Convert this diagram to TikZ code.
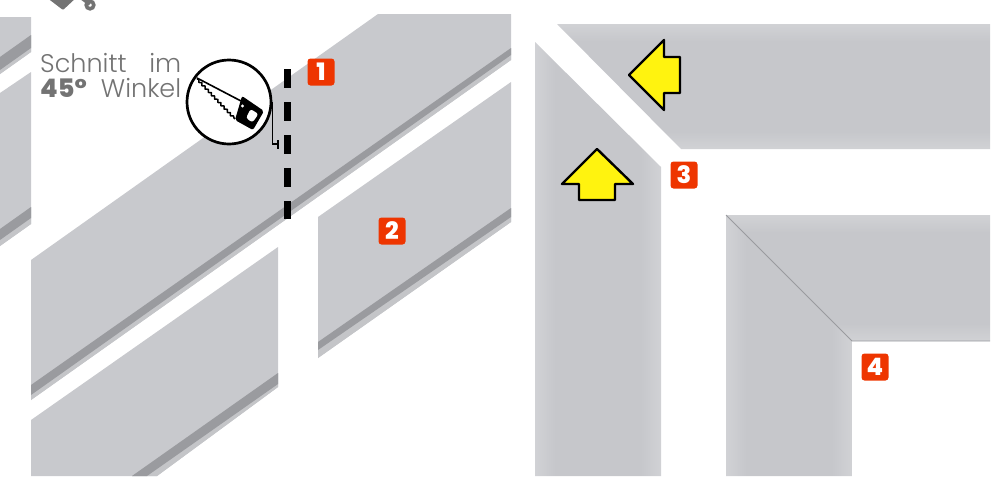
\documentclass[tikz,border=0pt]{standalone}
\usepackage{fontspec}
\setmainfont{Poppins}[UprightFont=* Light,BoldFont=* ExtraBold]
\usetikzlibrary{decorations.pathmorphing}
\definecolor{steel}{HTML}{C8C9CD}
\definecolor{steeledge}{HTML}{D1D2D5}
\definecolor{steelmid}{HTML}{C6C7CB}
\definecolor{groove}{HTML}{9A9B9F}
\definecolor{lip}{HTML}{C4C5C8}
\definecolor{badge}{HTML}{EE3500}
\definecolor{arrowy}{HTML}{FFF30F}
\definecolor{labelgrey}{HTML}{737373}
\pgfdeclareverticalshading{framevert}{100bp}{color(0bp)=(steeledge); color(25bp)=(steeledge); color(32bp)=(steelmid); color(68bp)=(steelmid); color(75bp)=(steeledge); color(100bp)=(steeledge)}
\pgfdeclarehorizontalshading{framehorz}{100bp}{color(0bp)=(steeledge); color(25bp)=(steeledge); color(33bp)=(steelmid); color(67bp)=(steelmid); color(75bp)=(steeledge); color(100bp)=(steeledge)}
\tikzset{
  strip/.style={fill=steel,draw=none},
  grooveband/.style={fill=groove,draw=none},
  lipband/.style={fill=lip,draw=none},
  framev/.style={shading=framehorz},
  frameh/.style={shading=framevert},
  badgebox/.style={fill=badge,rounded corners=3pt,minimum size=27,inner sep=0,text=white,font=\fontsize{24}{24}\selectfont\bfseries},
  yarrow/.style={fill=arrowy,draw=black,line width=2.4,line join=round},
  cutline/.style={draw=black,line width=7,dash pattern=on 19 off 14},
  sawring/.style={circle,draw=black,fill=white,line width=2.7,minimum size=84,inner sep=0},
}
\begin{document}
\begin{tikzpicture}[x=1pt,y=-1pt]
\useasboundingbox (0,0) rectangle (998,477);
% far-left strips
\fill[strip] (0,17) -- (31,17) -- (31,52) -- (0,74) -- cycle;
\fill[lipband] (0,57) -- (31,35) -- (31,52) -- (0,74) -- cycle;
\fill[grooveband] (0,57) -- (31,35) -- (31,48) -- (0,70) -- cycle;
\fill[strip] (0,93) -- (31,72) -- (31,224) -- (0,246) -- cycle;
\fill[lipband] (0,229) -- (31,207) -- (31,224) -- (0,246) -- cycle;
\fill[grooveband] (0,229) -- (31,207) -- (31,218) -- (0,240) -- cycle;
% strip 1
\fill[strip] (31,260) -- (378,14) -- (511,14) -- (511,60) -- (31,400) -- cycle;
\fill[lipband] (31,385) -- (511,48) -- (511,60) -- (31,400) -- cycle;
\fill[grooveband] (31,385) -- (511,48) -- (511,55) -- (31,395) -- cycle;
% strip 2
\fill[strip] (318,217) -- (511,82) -- (511,222) -- (318,358) -- cycle;
\fill[lipband] (318,342) -- (511,208) -- (511,222) -- (318,358) -- cycle;
\fill[grooveband] (318,342) -- (511,208) -- (511,217) -- (318,350) -- cycle;
% lower strip
\fill[strip] (31,420) -- (278,247) -- (278,387) -- (157,476) -- (31,476) -- cycle;
\fill[lipband] (132,476) -- (278,373) -- (278,387) -- (157,476) -- cycle;
\fill[grooveband] (132,476) -- (278,373) -- (278,384) -- (147,476) -- cycle;
% separated mitre pieces
\path[frameh] (557,24) -- (990,24) -- (990,149) -- (681,149) -- cycle;
\path[framev] (535,42) -- (661,167) -- (661,476) -- (535,476) -- cycle;
% joined frame
\path[frameh] (726,215) -- (990,215) -- (990,341) -- (852,341) -- cycle;
\path[framev] (726,215) -- (852,341) -- (852,476) -- (726,476) -- cycle;
\draw[groove,line width=0.8] (726,215) -- (852,341) -- (990,341);
% yellow arrows
\draw[yarrow] (629,75) -- (664,40) -- (664,57) -- (680,57) -- (680,93) -- (664,93) -- (664,110) -- cycle;
\draw[yarrow] (597,149) -- (562,184) -- (579,184) -- (579,200) -- (615,200) -- (615,184) -- (633,184) -- cycle;
% top-left fragment
\fill[labelgrey,rounded corners=1] (46,-3) -- (63,10) -- (77,-3) -- cycle;
\draw[labelgrey,line width=4] (82,-2) -- (90,4);
\draw[labelgrey,line width=3.6] (90,5) circle (3.8);
% cut line and leader
\coordinate (cuttop) at (287,69);
\coordinate (cutbot) at (287,219);
\draw[cutline] (cuttop) -- (cutbot);
\node[sawring] (saw) at (229,102) {};
\coordinate (leadend) at (278,144);
\draw[black,line width=1.4] (saw.east) -- (saw.east |- leadend) -- (leadend);
\coordinate (ticktop) at (278,140);
\coordinate (tickbot) at (278,149);
\draw[black,line width=1.4] (ticktop) -- (tickbot);
% saw
\draw[black,line width=1.6] (197,78) -- (241,101);
\draw[black,line width=1.5,line join=round,decorate,decoration={snake,segment length=4.6,amplitude=1.1}] (197,79) -- (235,119);
\fill[black,rounded corners=2] (242,96) -- (264,111) -- (253,130) -- (235,120) -- cycle;
\fill[white,rounded corners=2.5] (250.5,109) -- (258.5,114) -- (252.5,122.5) -- (246,118) -- cycle;
\fill[white] (242.5,106) circle (1.7);
% text
\node[anchor=north west,inner sep=0,text width=141,text=labelgrey,align=left,font=\fontsize{25.5}{25}\selectfont] (cuttext) at (40,53) {Schnitt\hfill im\\\textbf{45°}\hfill Winkel};
% badges
\node[badgebox] (b1) at (321,72) {1};
\node[badgebox] (b2) at (392,231) {2};
\node[badgebox] (b3) at (684,175) {3};
\node[badgebox] (b4) at (875,367) {4};
\end{tikzpicture}
\end{document}
